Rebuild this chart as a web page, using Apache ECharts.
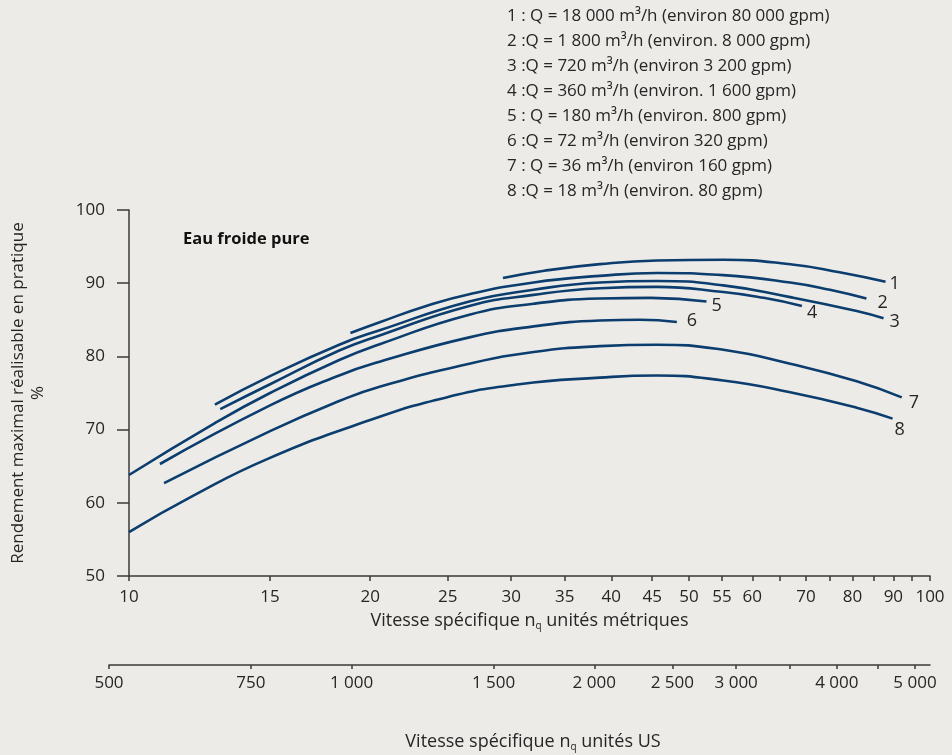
<!DOCTYPE html>
<html>
<head>
<meta charset="utf-8">
<script src="https://cdn.jsdelivr.net/npm/echarts@6/dist/echarts.min.js"></script>
<style>
	html, body { margin: 0; padding: 0; background: #edebe7; }
	#chart { width: 952px; height: 755px; }
</style>
</head>
<body>
<div id="chart"></div>
<script>
	// ticks / labels
	var metricTicks = [10, 15, 20, 25, 30, 35, 40, 45, 50, 55, 60, 65, 70, 75, 80, 85, 90, 95, 100];
	var metricLabels = [10, 15, 20, 25, 30, 35, 40, 45, 50, 55, 60, 70, 80, 90, 100];
	var usTicks = [500, 750, 1000, 1500, 2000, 2500, 3000, 3500, 4000, 4500, 5000];
	var usLabels = [500, 750, 1000, 1500, 2000, 2500, 3000, 4000, 5000];

	var legendLines = [
		'1 : Q = 18 000 m³/h (environ 80 000 gpm)',
		'2 :Q = 1 800 m³/h (environ. 8 000 gpm)',
		'3 :Q = 720 m³/h (environ 3 200 gpm)',
		'4 :Q = 360 m³/h (environ. 1 600 gpm)',
		'5 : Q = 180 m³/h (environ. 800 gpm)',
		'6 :Q = 72 m³/h (environ 320 gpm)',
		'7 : Q = 36 m³/h (environ 160 gpm)',
		'8 :Q = 18 m³/h (environ. 80 gpm)'
	];

	// curves : [nq metric, rendement %]
	var c1 = [[29.3, 90.7], [33, 91.7], [38.7, 92.6], [45.6, 93.1], [55.2, 93.2], [66.9, 92.6], [77.1, 91.5], [88.0, 90.2]];
	var c2 = [[18.9, 83.2], [20.6, 84.7], [23.5, 86.9], [26.6, 88.5], [32, 90.1], [38.7, 91.0], [45.6, 91.4], [55.2, 91.1], [66.9, 90.1], [75, 89.1], [83.3, 87.9]];
	var c3 = [[12.8, 73.4], [15, 77.3], [18.3, 81.6], [20.6, 83.6], [26.6, 87.5], [32, 89.1], [38.7, 90.1], [45.6, 90.3], [55.2, 89.7], [66.9, 88.1], [81.0, 86.2], [87.5, 85.2]];
	var c4 = [[13.0, 72.8], [15, 76.2], [18.3, 80.8], [20.6, 82.9], [26.6, 86.9], [32, 88.4], [38.7, 89.3], [45.6, 89.5], [55.2, 88.8], [62, 88.0], [69.2, 86.9]];
	var c5 = [[10, 63.8], [12.8, 70.9], [15, 75.0], [18.3, 79.5], [20.6, 81.7], [26.6, 85.7], [32, 87.2], [38.7, 87.9], [44.8, 88.0], [52.6, 87.5]];
	var c6 = [[10.93, 65.3], [15, 73.3], [18.3, 77.4], [20.6, 79.3], [26.6, 82.6], [32, 84.1], [38.7, 84.9], [43.4, 85.0], [48.3, 84.7]];
	var c7 = [[11.06, 62.7], [15, 69.8], [18.3, 73.9], [20.6, 75.9], [26.6, 79.0], [32, 80.6], [38.7, 81.4], [45.6, 81.6], [55.2, 80.9], [66.9, 79.0], [81.0, 76.6], [92.2, 74.4]];
	var c8 = [[10, 56.0], [12, 60.9], [14.9, 66.0], [20.0, 71.3], [24.9, 74.4], [30.7, 76.2], [38.7, 77.1], [45.6, 77.4], [55.2, 76.7], [66.9, 75.1], [81.0, 73.0], [89.8, 71.5]];

	var curves = [c1, c2, c3, c4, c5, c6, c7, c8];
	var curveNames = ['1', '2', '3', '4', '5', '6', '7', '8'];
	// where the number sits next to the end of each line
	var endOffsets = [[4, 2], [11, 4], [6, 4], [5, 7], [5, 4], [10, -1], [7, 5], [2, 11]];

	var FONT = '"Open Sans", "Noto Sans", sans-serif';
	var TXT = '#262626';
	var AX = '#3a3a3a';
	var LINE = '#0b3d6e';

	function thousands(v) {
		return String(v).replace(/\B(?=(\d{3})+(?!\d))/g, ' ');
	}

	var chart = echarts.init(document.getElementById('chart'), null, { renderer: 'canvas' });

	var series = curves.map(function (c, i) {
		return {
			name: curveNames[i],
			type: 'line',
			xAxisIndex: 0,
			yAxisIndex: 0,
			data: c,
			smooth: 0.5,
			showSymbol: false,
			symbol: 'none',
			silent: true,
			lineStyle: { color: LINE, width: 2.6 },
			endLabel: {
				show: true,
				formatter: curveNames[i],
				position: 'right',
				distance: 0,
				offset: endOffsets[i],
				color: TXT,
				fontFamily: FONT,
				fontSize: 18
			},
			z: 3
		};
	});

	var graphics = legendLines.map(function (t, i) {
		return {
			type: 'text',
			x: 507,
			y: 16 + i * 25,
			style: {
				text: t,
				fill: TXT,
				font: '17px ' + FONT,
				textVerticalAlign: 'middle'
			}
		};
	});
	graphics.push({
		type: 'text',
		x: 183,
		y: 239,
		style: {
			text: 'Eau froide pure',
			fill: '#111',
			font: 'bold 16.5px ' + FONT,
			textVerticalAlign: 'middle'
		}
	});

	var subStyle = { fontSize: 10, lineHeight: 6, verticalAlign: 'bottom', fontFamily: FONT, color: TXT };

	chart.setOption({
		backgroundColor: '#edebe7',
		animation: false,
		textStyle: { fontFamily: FONT },
		grid: [
			{ left: 129, right: 22, top: 210, bottom: 179, containLabel: false, outerBoundsMode: 'none' },
			{ left: 109, right: 22, top: 210, bottom: 90, containLabel: false, outerBoundsMode: 'none' }
		],
		xAxis: [
			{
				type: 'log',
				gridIndex: 0,
				logBase: 10,
				min: 10,
				max: 100,
				name: 'Vitesse spécifique n{sub|q} unités métriques',
				nameLocation: 'middle',
				nameGap: 35,
				nameTextStyle: { color: TXT, fontSize: 18, fontFamily: FONT, lineHeight: 20, rich: { sub: subStyle } },
				axisLine: { lineStyle: { color: AX, width: 1.5 } },
				axisTick: { show: true, length: 5, customValues: metricTicks, lineStyle: { color: AX, width: 1.5 } },
				minorTick: { show: false },
				splitLine: { show: false },
				axisLabel: {
					customValues: metricLabels,
					color: TXT,
					fontSize: 17,
					fontFamily: FONT,
					margin: 13
				}
			},
			{
				type: 'log',
				gridIndex: 1,
				logBase: 10,
				min: 500,
				max: 5219,
				name: 'Vitesse spécifique n{sub|q} unités US',
				nameLocation: 'middle',
				nameGap: 67,
				nameTextStyle: { color: TXT, fontSize: 18, fontFamily: FONT, lineHeight: 20, padding: [0, 0, 0, 27], rich: { sub: subStyle } },
				axisLine: { lineStyle: { color: AX, width: 1.5 } },
				axisTick: { show: true, length: 4, customValues: usTicks, lineStyle: { color: AX, width: 1.5 } },
				splitLine: { show: false },
				axisLabel: {
					customValues: usLabels,
					color: TXT,
					fontSize: 17,
					fontFamily: FONT,
					margin: 10,
					formatter: function (v) { return thousands(v); }
				}
			}
		],
		yAxis: [
			{
				type: 'value',
				gridIndex: 0,
				min: 50,
				max: 100,
				interval: 10,
				name: 'Rendement maximal réalisable en pratique\n%',
				nameLocation: 'middle',
				nameRotate: 90,
				nameGap: 81,
				nameTextStyle: { color: TXT, fontSize: 17, fontFamily: FONT, lineHeight: 20, align: 'center' },
				axisLine: { show: true, lineStyle: { color: AX, width: 1.5 } },
				axisTick: { show: true, length: 12, lineStyle: { color: AX, width: 1.5 } },
				splitLine: { show: false },
				axisLabel: { color: TXT, fontSize: 17, fontFamily: FONT, margin: 24 }
			},
			{
				type: 'value',
				gridIndex: 1,
				min: 0,
				max: 1,
				show: false
			}
		],
		graphic: graphics,
		series: series
	});
</script>
</body>
</html>
